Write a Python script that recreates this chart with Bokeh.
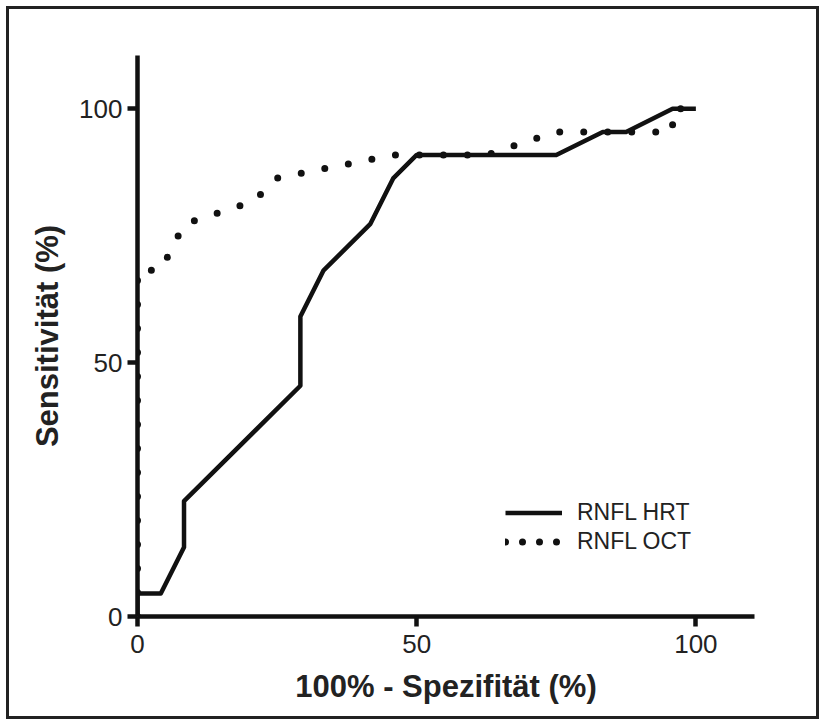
from bokeh.plotting import figure
from bokeh.models import FixedTicker, Legend, LegendItem, Range1d
from bokeh.embed import file_html
from bokeh.resources import INLINE

# ROC data (x = 100% - Spezifität, y = Sensitivität)
hrt_fpr = [0, 0, 4.17, 8.33, 8.33, 29.17, 29.17, 33.33, 41.67, 45.83, 50, 75, 83.33, 87.5, 95.83, 100]
hrt_sens = [0, 4.55, 4.55, 13.64, 22.73, 45.45, 59.09, 68.18, 77.27, 86.36, 90.91, 90.91, 95.45, 95.45, 100, 100]

oct_fpr = [0, 0, 4.17, 8.33, 20.83, 25, 45.83, 62.5, 75, 95.83, 95.83, 100]
oct_sens = [0, 68.18, 68.18, 77.27, 81.82, 86.36, 90.91, 90.91, 95.45, 95.45, 100, 100]

tick_values = [0, 50, 100]
series_names = ["RNFL HRT", "RNFL OCT"]
x_title = "100% - Spezifität (%)"
y_title = "Sensitivität (%)"

W, H = 807, 707
p = figure(width=W, height=H,
           x_range=Range1d(0, 110.5), y_range=Range1d(0, 110.5),
           output_backend="svg", toolbar_location=None,
           min_border_left=128, min_border_right=62,
           min_border_top=46, min_border_bottom=100)
p.outline_line_color = None
p.grid.visible = False
p.background_fill_color = "white"
p.border_fill_color = "white"
p.styles = {"margin": "9px", "outline": "3px solid #222222", "outline-offset": "0px"}

ink = "#111111"
oct_r = p.line(oct_fpr, oct_sens, line_color=ink, line_width=7,
               line_dash="0 24", line_cap="round")
hrt_r = p.line(hrt_fpr, hrt_sens, line_color=ink, line_width=4.5,
               line_join="round")

# legend-only renderer for the dotted sample
oct_leg = p.line([float("nan")], [float("nan")], line_color=ink, line_width=7,
                 line_dash="0 17", line_cap="round")

for ax in (p.xaxis[0], p.yaxis[0]):
    ax.ticker = FixedTicker(ticks=tick_values)
    ax.axis_line_color = ink
    ax.axis_line_width = 4.5
    ax.major_tick_line_color = ink
    ax.major_tick_line_width = 4.5
    ax.major_tick_in = 0
    ax.major_tick_out = 10
    ax.minor_tick_line_color = None
    ax.major_label_text_font = "Liberation Sans"
    ax.major_label_text_font_size = "26px"
    ax.major_label_text_color = "#222222"
    ax.axis_label_text_font = "Liberation Sans"
    ax.axis_label_text_font_size = "31px"
    ax.axis_label_text_font_style = "bold"
    ax.axis_label_text_color = "#222222"

p.xaxis[0].major_label_standoff = 8
p.xaxis[0].axis_label = x_title
p.xaxis[0].axis_label_standoff = 13
p.yaxis[0].major_label_standoff = 5
p.yaxis[0].axis_label = y_title
p.yaxis[0].axis_label_standoff = 11

legend = Legend(items=[LegendItem(label=series_names[0], renderers=[hrt_r]),
                       LegendItem(label=series_names[1], renderers=[oct_leg])],
                location=(368, 60), orientation="vertical",
                padding=0, margin=0, spacing=0,
                glyph_width=57, glyph_height=29, label_height=29,
                label_standoff=15,
                label_text_font="Liberation Sans", label_text_font_size="23px",
                label_text_color="#222222",
                border_line_alpha=0, background_fill_alpha=0)
p.add_layout(legend)

open("out.html", "w").write(file_html(p, INLINE))
